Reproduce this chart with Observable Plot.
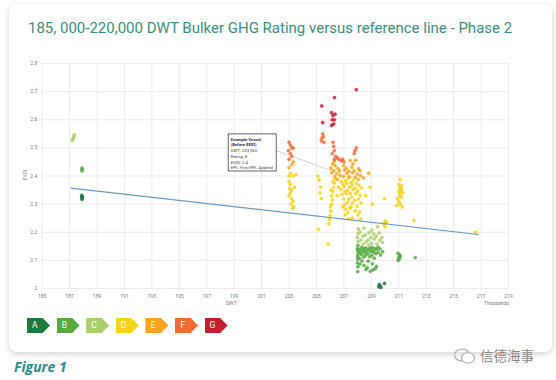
<!DOCTYPE html>
<html><head><meta charset="utf-8">
<script src="https://cdn.jsdelivr.net/npm/d3@7"></script>
<script src="https://cdn.jsdelivr.net/npm/@observablehq/plot@0.6"></script>
<style>
html,body{margin:0;padding:0;background:#fff;width:556px;height:380px;overflow:hidden;font-family:Roboto,"Noto Sans",sans-serif;}
#card{position:absolute;left:9px;top:4px;width:543px;height:348px;background:#fff;border-radius:8px;box-shadow:0 2px 6px rgba(0,0,0,0.18);}
#title{position:absolute;left:28px;top:19px;font-size:15px;color:#3a8f80;white-space:nowrap;}
#chart{position:absolute;left:0;top:0;}
.lbl{position:absolute;font-size:5px;color:#777;white-space:nowrap;}
#legend{position:absolute;left:27px;top:318px;}
.badge{position:absolute;top:0;width:23px;height:15px;clip-path:polygon(0 0,68% 0,100% 50%,68% 100%,0 100%);color:#fff;font-size:8.5px;line-height:15px;}
.badge span{position:absolute;left:0;width:15.5px;text-align:center;}
#fig{position:absolute;left:14px;top:357px;font-size:14px;font-style:italic;font-weight:bold;color:#2f8c8a;font-family:"Open Sans",sans-serif;}
#wm{position:absolute;left:480px;top:345px;font-size:13.5px;color:#888;font-family:"Noto Sans CJK SC",sans-serif;}
#wmicon{position:absolute;left:453px;top:347px;}
</style></head>
<body>
<div id="card"></div>
<div id="title">185, 000-220,000 DWT Bulker GHG Rating versus reference line - Phase 2</div>
<div id="chart"></div>
<div class="lbl" style="left:226px;top:300px;">DWT</div>
<div class="lbl" style="left:484px;top:300px;">Thousands</div>
<div class="lbl" style="left:20px;top:172px;transform:rotate(-90deg);">EVDI</div>
<div id="legend"></div>
<div id="fig">Figure 1</div>
<svg id="wmicon" width="24" height="18"><ellipse cx="9" cy="8" rx="7.5" ry="6" fill="none" stroke="#aaa" stroke-width="1.1"/><ellipse cx="15" cy="11" rx="6.5" ry="5.2" fill="#fff" stroke="#aaa" stroke-width="1.1"/></svg>
<div id="wm">信德海事</div>
<script>
const xTicks = [185,187,189,191,193,195,197,199,201,203,205,207,209,211,213,215,217,219];
const yTicks = [2,2.1,2.2,2.3,2.4,2.5,2.6,2.7,2.8];
const ratings = ["A","B","C","D","E","F","G"];
const ratingColors = ["#1d7a3c","#55aa42","#a9cf6b","#f5d21c","#f5a41f","#f26b36","#c51f2d"];

const ratingA = [
 [187.9,2.317],[187.9,2.322],[187.92,2.327],[187.88,2.331],[187.9,2.325],
 [209.55,2.006],[209.62,2.01],[209.7,2.004],[209.58,2.014],[209.96,2.018]
];
const ratingB = [
 [187.9,2.418],[187.92,2.423],[187.9,2.428],
 [208.0,2.06],[208.02,2.077],[207.98,2.091],[208.01,2.104],[207.99,2.113],[208.03,2.122],[208.0,2.133],[207.98,2.142],[208.02,2.153],
 [208.16,2.087],[208.13,2.108],[208.18,2.128],[208.14,2.139],
 [208.31,2.098],[208.28,2.121],[208.33,2.134],[208.3,2.146],
 [208.46,2.082],[208.43,2.112],[208.48,2.129],[208.45,2.141],
 [208.61,2.068],[208.58,2.118],[208.63,2.133],[208.6,2.144],
 [208.77,2.097],[208.73,2.124],[208.79,2.138],
 [208.92,2.061],[208.88,2.113],[208.94,2.131],[208.9,2.143],
 [209.07,2.088],[209.03,2.118],[209.09,2.134],[209.05,2.146],
 [209.22,2.108],[209.18,2.129],[209.24,2.142],
 [209.37,2.079],[209.33,2.124],[209.39,2.139],
 [209.52,2.128],[209.48,2.147],
 [209.67,2.119],[209.63,2.141],
 [209.82,2.131],
 [208.7,2.074],[209.12,2.066],[209.28,2.071],
 [210.95,2.10],[211.0,2.11],[211.05,2.12],[210.95,2.125],[211.05,2.105],[211.1,2.115],
 [212.2,2.11]
];
const ratingC = [
 [187.2,2.527],[187.25,2.533],[187.3,2.54],[187.35,2.546],
 [208.02,2.167],[207.98,2.182],[208.03,2.196],[208.05,2.212],
 [208.22,2.172],[208.18,2.201],
 [208.41,2.158],[208.37,2.186],[208.45,2.215],
 [208.62,2.166],[208.57,2.191],
 [208.82,2.154],[208.77,2.172],[208.84,2.199],
 [209.02,2.161],[208.97,2.181],[209.04,2.208],
 [209.22,2.176],[209.17,2.194],
 [209.42,2.159],[209.37,2.186],[209.45,2.22],
 [209.62,2.171],[209.57,2.198],
 [209.82,2.164],[209.77,2.181]
];
const ratingD = [
 [203.0,2.40],[203.1,2.41],[203.3,2.40],[203.5,2.405],[203.0,2.38],[203.1,2.37],[203.2,2.35],[203.1,2.34],
 [203.0,2.33],[203.2,2.32],[203.3,2.31],[203.15,2.30],[203.35,2.29],[203.25,2.285],[203.4,2.36],[203.05,2.355],
 [205.1,2.40],[205.2,2.385],[205.3,2.36],[205.25,2.34],[205.35,2.32],[205.15,2.21],[205.85,2.157],
 [205.9,2.23],[205.95,2.245],[206.0,2.26],[206.05,2.275],[206.0,2.29],[206.1,2.30],[206.15,2.315],[206.1,2.33],
 [206.2,2.345],[206.25,2.36],[206.3,2.375],[206.35,2.39],[206.2,2.38],[206.05,2.35],[206.5,2.33],[206.6,2.36],[206.8,2.38],
 [206.85,2.335],[206.78,2.352],[206.92,2.371],[206.9,2.29],
 [207.03,2.297],[206.98,2.318],[207.07,2.344],[207.02,2.362],[207.11,2.383],
 [207.24,2.305],[207.18,2.336],[207.27,2.349],[207.21,2.374],[207.3,2.392],
 [207.43,2.286],[207.37,2.318],[207.46,2.338],[207.41,2.361],[207.52,2.377],
 [207.62,2.303],[207.57,2.326],[207.66,2.352],[207.6,2.368],[207.7,2.386],
 [207.83,2.276],[207.77,2.314],[207.86,2.337],[207.81,2.357],[207.9,2.374],
 [208.02,2.262],[207.97,2.293],[208.06,2.318],[208.0,2.346],[208.1,2.366],
 [208.22,2.247],[208.17,2.272],[208.26,2.304],[208.19,2.331],[208.3,2.357],
 [207.3,2.27],[207.32,2.248],[207.1,2.262],[207.12,2.281],[207.5,2.29],[207.6,2.25],
 [208.6,2.33],[208.9,2.36],[209.08,2.30],[209.96,2.32],
 [210.0,2.24],[210.0,2.22],[209.9,2.23],[210.1,2.235],
 [211.0,2.37],[211.1,2.36],[211.2,2.35],[211.0,2.345],[211.15,2.34],[211.05,2.33],[211.2,2.325],[210.9,2.32],
 [211.0,2.31],[211.1,2.30],[210.85,2.295],[211.25,2.29],[211.1,2.355],[211.2,2.365],[211.3,2.34],[211.1,2.388],
 [212.1,2.242],[216.6,2.20]
];
const ratingE = [
 [203.2,2.44],[203.0,2.43],[203.3,2.45],
 [206.12,2.412],[206.05,2.428],[206.18,2.443],
 [206.33,2.398],[206.27,2.419],[206.36,2.437],[206.29,2.452],
 [206.52,2.388],[206.47,2.408],[206.56,2.427],
 [206.72,2.402],[206.66,2.418],
 [206.97,2.398],[207.05,2.421],[206.99,2.437],
 [207.22,2.409],[207.17,2.428],
 [207.41,2.397],[207.36,2.417],[207.46,2.455],
 [207.63,2.412],[207.57,2.431],[207.66,2.443],
 [207.82,2.396],[207.77,2.418],[207.84,2.456],
 [208.03,2.388],[207.98,2.407],[208.07,2.426],
 [208.21,2.401],[208.16,2.419],[208.42,2.393],[208.8,2.41]
];
const ratingF = [
 [203.0,2.52],[203.1,2.51],[203.2,2.50],[202.95,2.49],[203.1,2.48],[203.2,2.47],[203.0,2.46],[203.3,2.50],
 [205.45,2.55],[205.5,2.54],[205.35,2.525],[205.55,2.52],[205.4,2.535],
 [206.2,2.52],[206.25,2.505],[206.3,2.49],[206.15,2.48],[206.4,2.47],[206.3,2.46],[206.5,2.465],
 [206.6,2.46],[206.8,2.455],[206.9,2.46],[207.0,2.45],
 [207.8,2.49],[207.9,2.50],[207.75,2.48]
];
const ratingG = [
 [205.38,2.649],[206.31,2.679],[206.1,2.625],[206.2,2.615],[206.35,2.62],[206.15,2.60],[206.3,2.60],
 [206.25,2.585],[206.1,2.58],[207.9,2.707],[205.45,2.59]
];
const refLine = [[187.1,2.357],[216.8,2.192]];
const noteBox = {x1:198.6, x2:202.1, y1:2.416, y2:2.548};
const noteLink = [[202.1,2.49],[206.0,2.42]];
const noteTitle = "Example Vessel\n(Before EEXI)";
const noteBody = "DWT: 203,060\nRating: E\nEVDI: 2.4\nEPL: First EPL Applied";

const groups = [ratingA,ratingB,ratingC,ratingD,ratingE,ratingF,ratingG];
const points = groups.flatMap((g,i)=>g.map(([dwt,evdi])=>({dwt,evdi,rating:ratings[i]})));

const chart = Plot.plot({
  width:556, height:310,
  marginLeft:41.7, marginRight:48, marginTop:63, marginBottom:22,
  style:{fontSize:"5px", fontFamily:"Roboto, sans-serif", color:"#777", background:"transparent"},
  x:{domain:[185,219], ticks:xTicks, tickFormat:d=>String(d), tickSize:0, tickPadding:6, label:null},
  y:{domain:[2,2.8], ticks:yTicks, tickFormat:d=>String(+d.toFixed(1)), tickSize:0, tickPadding:5, label:null},
  color:{domain:ratings, range:ratingColors},
  marks:[
    Plot.gridX(xTicks,{stroke:"#e4e4e4", strokeOpacity:1, strokeWidth:0.7}),
    Plot.gridY(yTicks,{stroke:"#e4e4e4", strokeOpacity:1, strokeWidth:0.7}),
    Plot.axisX({ticks:xTicks, tickSize:0, tickPadding:6, tickFormat:d=>String(d), label:null}),
    Plot.axisY({ticks:yTicks, tickSize:0, tickPadding:5, tickFormat:d=>String(+d.toFixed(1)), label:null}),
    Plot.line(noteLink,{x:d=>d[0], y:d=>d[1], stroke:"#b7c9d6", strokeWidth:0.8}),
    Plot.dot(points,{x:"dwt", y:"evdi", fill:"rating", stroke:"rating", r:1.6, fillOpacity:0.85, strokeWidth:0.4}),
    Plot.line(refLine,{x:d=>d[0], y:d=>d[1], stroke:"#6a9ac6", strokeWidth:1.2}),
    Plot.rect([noteBox],{x1:"x1", x2:"x2", y1:"y1", y2:"y2", fill:"white", stroke:"#555", strokeWidth:0.9}),
    Plot.text([noteBox],{x:d=>d.x1+0.15, y:"y2", text:()=>noteTitle, textAnchor:"start", lineAnchor:"top", dy:2.5, fontSize:4.3, fontWeight:"bold", fill:"#333", lineHeight:1.3}),
    Plot.text([noteBox],{x:d=>d.x1+0.15, y:"y2", text:()=>noteBody, textAnchor:"start", lineAnchor:"top", dy:13.5, fontSize:4.3, fill:"#444", lineHeight:1.35})
  ]
});
document.getElementById("chart").appendChild(chart);

const legend = document.getElementById("legend");
ratings.forEach((r,i)=>{
  const b = document.createElement("div");
  b.className="badge";
  b.style.left=(i*29.6)+"px";
  b.style.background=ratingColors[i];
  b.innerHTML="<span>"+r+"</span>";
  legend.appendChild(b);
});
</script>
</body></html>
